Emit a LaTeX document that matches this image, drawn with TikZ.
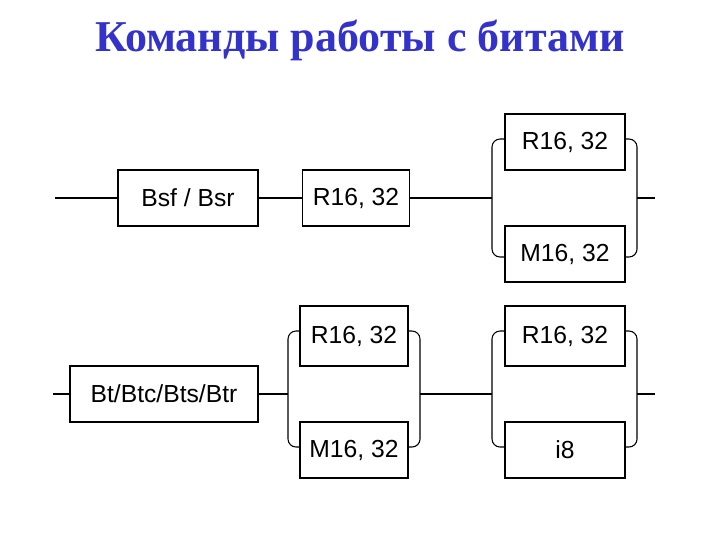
\documentclass[tikz,border=0pt]{standalone}
\usepackage{fontspec}
\setmainfont{Liberation Serif}
\newfontfamily\boxfont{Liberation Sans}
\definecolor{ttl}{RGB}{51,51,204}
\begin{document}
\begin{tikzpicture}[x=0.75pt,y=-0.75pt,
  bx/.style={draw,line width=0.8pt,inner sep=0pt,font=\boxfont\fontsize{18.5}{20}\selectfont},
  ln/.style={line width=0.8pt},
  br/.style={line width=0.8pt,rounded corners=6pt}]
\useasboundingbox (0,0) rectangle (720,540);
\node[font=\fontsize{33}{36}\selectfont\bfseries,text=ttl] (title) at (360,40) {Команды работы с битами};
% top row
\node[bx,minimum width=105pt,minimum height=42pt] (bsf) at (188,198) {Bsf / Bsr};
\node[bx,minimum width=80pt,minimum height=42pt] (r1) at (356,198) {R16, 32};
\node[bx,minimum width=90pt,minimum height=42pt] (r2) at (565,142) {R16, 32};
\node[bx,minimum width=90pt,minimum height=42pt] (m2) at (565,254) {M16, 32};
\coordinate (in1) at (55,198);
\coordinate (j1) at (492,198);
\coordinate (k1) at (637,198);
\coordinate (out1) at (655,198);
\draw[ln] (in1) -- (bsf.west);
\draw[ln] (bsf.east) -- (r1.west);
\draw[ln] (r1.east) -- (j1);
\draw[ln] (k1) -- (out1);
\draw[br] (r2.west |- 0,139) -- (492,139) -- (492,257) -- (m2.west |- 0,257);
\draw[br] (r2.east |- 0,139) -- (637,139) -- (637,257) -- (m2.east |- 0,257);
% bottom row
\node[bx,minimum width=141pt,minimum height=42pt] (bt) at (164,394) {Bt/Btc/Bts/Btr};
\node[bx,minimum width=81pt,minimum height=45pt] (r3) at (354,336) {R16, 32};
\node[bx,minimum width=81pt,minimum height=42pt] (m3) at (354,450) {M16, 32};
\node[bx,minimum width=90pt,minimum height=45pt] (r4) at (565,336) {R16, 32};
\node[bx,minimum width=90pt,minimum height=42pt] (i8) at (565,450) {i8};
\coordinate (in2) at (53,394);
\coordinate (out2) at (655,394);
\draw[ln] (in2) -- (bt.west);
\draw[ln] (bt.east) -- (288,394);
\draw[ln] (420,394) -- (492,394);
\draw[ln] (637,394) -- (out2);
\draw[br] (r3.west |- 0,331) -- (288,331) -- (288,447) -- (m3.west |- 0,447);
\draw[br] (r3.east |- 0,331) -- (420,331) -- (420,447) -- (m3.east |- 0,447);
\draw[br] (r4.west |- 0,331) -- (492,331) -- (492,447) -- (i8.west |- 0,447);
\draw[br] (r4.east |- 0,331) -- (637,331) -- (637,447) -- (i8.east |- 0,447);
\end{tikzpicture}
\end{document}
